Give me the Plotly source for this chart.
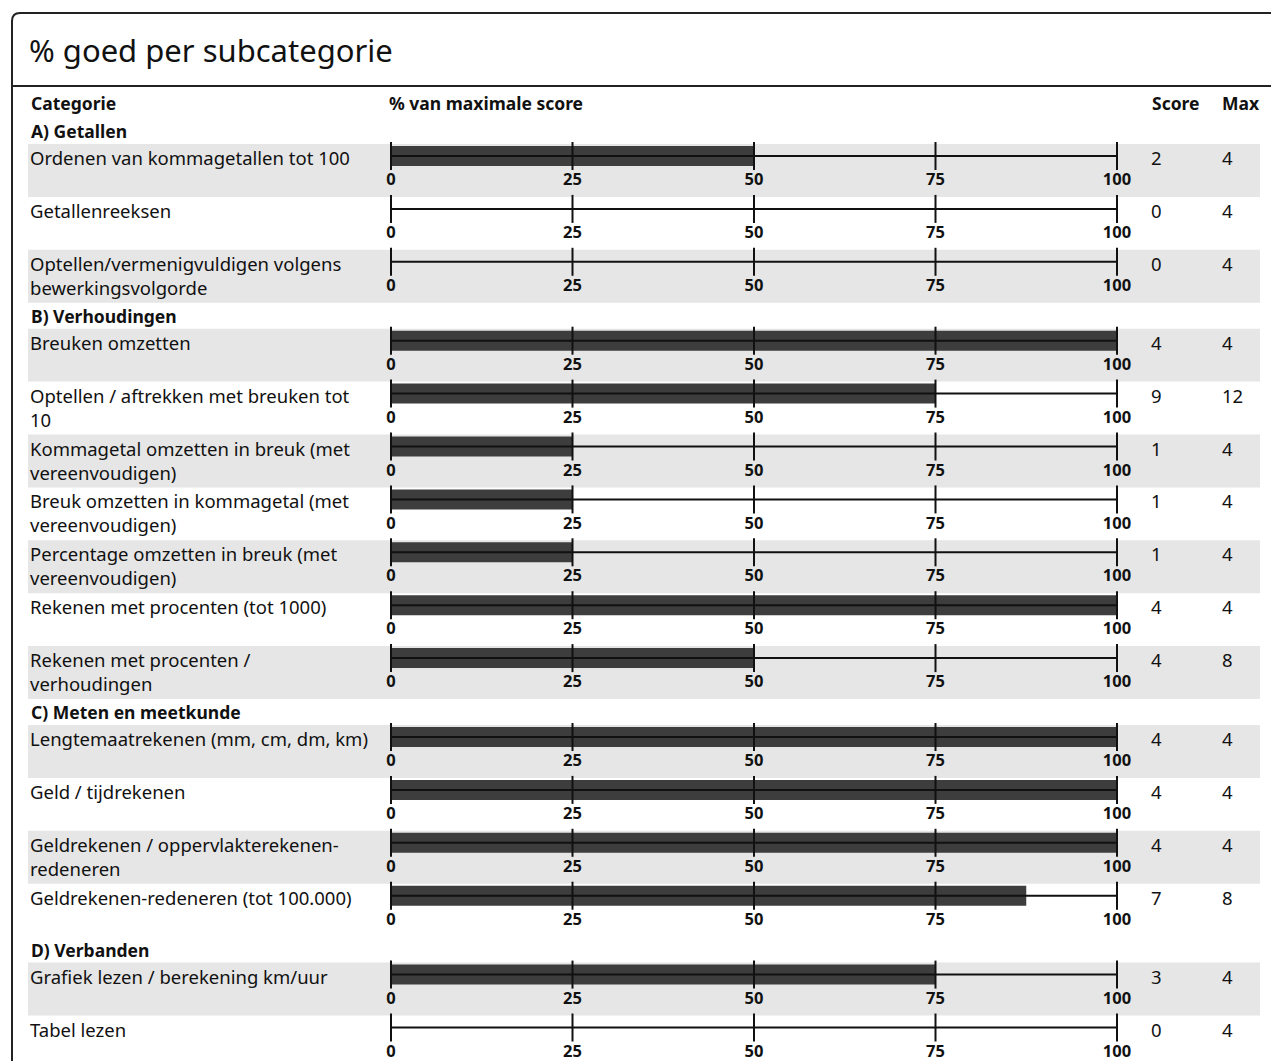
import plotly.graph_objects as go

# ---------------- data ----------------
groups = ["A) Getallen", "B) Verhoudingen", "C) Meten en meetkunde", "D) Verbanden"]
group_sizes = [3, 7, 4, 2]
categories = [
    "Ordenen van kommagetallen tot 100",
    "Getallenreeksen",
    "Optellen/vermenigvuldigen volgens<br>bewerkingsvolgorde",
    "Breuken omzetten",
    "Optellen / aftrekken met breuken tot<br>10",
    "Kommagetal omzetten in breuk (met<br>vereenvoudigen)",
    "Breuk omzetten in kommagetal (met<br>vereenvoudigen)",
    "Percentage omzetten in breuk (met<br>vereenvoudigen)",
    "Rekenen met procenten (tot 1000)",
    "Rekenen met procenten /<br>verhoudingen",
    "Lengtemaatrekenen (mm, cm, dm, km)",
    "Geld / tijdrekenen",
    "Geldrekenen / oppervlakterekenen-<br>redeneren",
    "Geldrekenen-redeneren (tot 100.000)",
    "Grafiek lezen / berekening km/uur",
    "Tabel lezen",
]
scores = [2, 0, 0, 4, 9, 1, 1, 1, 4, 4, 4, 4, 4, 7, 3, 0]
max_scores = [4, 4, 4, 4, 12, 4, 4, 4, 4, 8, 4, 4, 4, 8, 4, 4]
tick_values = [0, 25, 50, 75, 100]
tick_labels = ["0", "25", "50", "75", "100"]
title_text = "% goed per subcategorie"
header_labels = ["Categorie", "% van maximale score", "Score", "Max"]

pct = [100 * s / m for s, m in zip(scores, max_scores)]

# ---------------- layout constants ----------------
W, H = 1271, 1061
FONT = "Noto Sans"
TXT = "#111111"
BAR = "#3d3d3d"
BAND = "#e6e6e6"
X0_PX, X100_PX = 391, 1117
ppu = (X100_PX - X0_PX) / 100.0
x_range = [-X0_PX / ppu, (W - X0_PX) / ppu]

ROW_H = 52.9
GRP_H = 26
LABEL_SIZE = 18.5
LINE_H = 1.3 * LABEL_SIZE


def xp(px):
    return px / W


# compute row positions
row_tops, group_centers, band_flags = [], [], []
y = 118
for g, n in zip(groups, group_sizes):
    group_centers.append(y + 13)
    y += GRP_H
    for k in range(n):
        row_tops.append(y)
        band_flags.append(k % 2 == 0)
        y += ROW_H

bar_centers = [t + 12 for t in row_tops]
ticklab_y = [t + 37 for t in row_tops]

fig = go.Figure()

# bars
fig.add_trace(go.Bar(
    x=pct, y=bar_centers, base=0, orientation="h", width=20,
    marker=dict(color=BAR, line=dict(width=0)), hoverinfo="skip",
))

# axis lines
lx, ly = [], []
for c in bar_centers:
    lx += [tick_values[0], tick_values[-1], None]
    ly += [c, c, None]
fig.add_trace(go.Scatter(x=lx, y=ly, mode="lines",
                         line=dict(color="#111111", width=2), hoverinfo="skip"))

# tick marks
tx, ty = [], []
for c in bar_centers:
    for v in tick_values:
        tx.append(v)
        ty.append(c)
fig.add_trace(go.Scatter(
    x=tx, y=ty, mode="markers",
    marker=dict(symbol="line-ns", size=20, line=dict(color="#111111", width=2)),
    hoverinfo="skip",
))

# tick labels
tlx, tly, tlt = [], [], []
for yy in ticklab_y:
    for v, t in zip(tick_values, tick_labels):
        tlx.append(v)
        tly.append(yy)
        tlt.append(t)
fig.add_trace(go.Scatter(
    x=tlx, y=tly, mode="text", text=tlt, textposition="middle center",
    textfont=dict(family=FONT, size=16.5, color=TXT, weight="bold"),
    hoverinfo="skip",
))

annotations = []
shapes = []

# bands
for t, f in zip(row_tops, band_flags):
    if f:
        shapes.append(dict(type="rect", xref="paper", yref="y",
                           x0=xp(28), x1=xp(1260), y0=t, y1=t + ROW_H,
                           fillcolor=BAND, line=dict(width=0), layer="below"))


def ann(text, x, yy, size=LABEL_SIZE, bold=False, xref="paper"):
    annotations.append(dict(
        text=f"<b>{text}</b>" if bold else text, x=x, y=yy, xref=xref, yref="y",
        xanchor="left", yanchor="middle", align="left", showarrow=False,
        font=dict(family=FONT, size=size, color=TXT),
    ))


# title
ann(title_text, xp(27), 50, size=31)
# headers
for lab, px in zip(header_labels, [29, 387, 1150, 1220]):
    ann(lab, xp(px), 103, size=17.5, bold=True)
# groups
for g, c in zip(groups, group_centers):
    ann(g, xp(29), c, size=17.5, bold=True)
# row labels + scores
for cat, t, s, m in zip(categories, row_tops, scores, max_scores):
    n_lines = cat.count("<br>") + 1
    ann(cat, xp(28), t + 13.5 + (n_lines - 1) * LINE_H / 2)
    ann(str(s), xp(1149), t + 13.5)
    ann(str(m), xp(1220), t + 13.5)

# frame
path = (f"M {xp(12)},1061 L {xp(12)},21 Q {xp(12)},13 {xp(20)},13 L {xp(1271)},13")
shapes.append(dict(type="path", xref="paper", yref="y", path=path,
                   line=dict(color="#222222", width=2)))
shapes.append(dict(type="line", xref="paper", yref="y", x0=xp(12), x1=1, y0=86, y1=86,
                   line=dict(color="#222222", width=2)))

fig.update_layout(
    width=W, height=H, autosize=False,
    margin=dict(l=0, r=0, t=0, b=0, pad=0),
    paper_bgcolor="white", plot_bgcolor="white",
    showlegend=False, barmode="overlay",
    xaxis=dict(range=x_range, visible=False, fixedrange=True),
    yaxis=dict(range=[H, 0], visible=False, fixedrange=True),
    annotations=annotations, shapes=shapes,
    font=dict(family=FONT, color=TXT),
)

fig.write_html(
    "out.html",
    config={"displayModeBar": False},
    post_script="document.body.style.margin='0';document.body.style.overflow='hidden';",
)
